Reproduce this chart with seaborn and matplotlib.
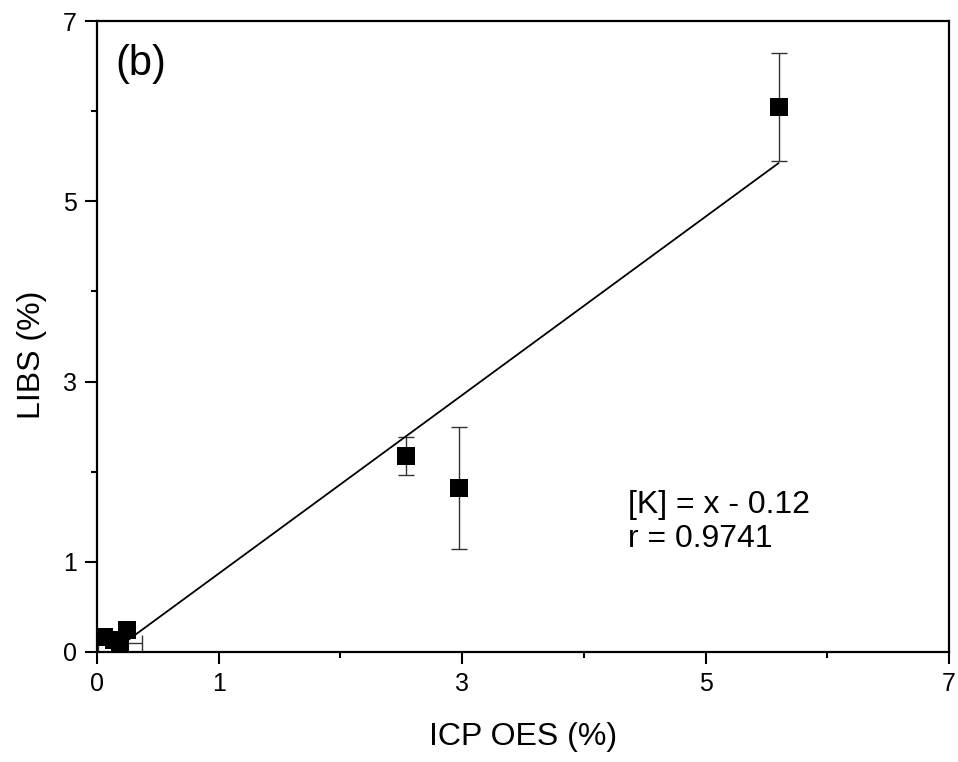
import numpy as np
import pandas as pd
import matplotlib
matplotlib.use("Agg")
import matplotlib.pyplot as plt
import seaborn as sns

# Data
icp = [0.06, 0.19, 0.14, 0.25, 2.54, 2.97, 5.60]
libs = [0.17, 0.10, 0.13, 0.245, 2.175, 1.82, 6.05]
libs_err = [0.0, 0.0, 0.0, 0.0, 0.21, 0.68, 0.60]
icp_err = [0.0, 0.18, 0.0, 0.0, 0.0, 0.0, 0.0]
fit_slope = 0.99
fit_intercept = -0.12
fit_range = [0.13, 5.60]
eq_text = "[K] = x - 0.12"
r_text = "r = 0.9741"
panel_label = "(b)"
major_ticks = [0, 1, 3, 5, 7]
minor_ticks = [2, 4, 6]

sns.set_theme(style="ticks")
plt.rcParams["font.family"] = ["Liberation Sans", "DejaVu Sans"]

df = pd.DataFrame({"ICP": icp, "LIBS": libs, "yerr": libs_err, "xerr": icp_err})

fig = plt.figure(figsize=(9.58, 7.62), dpi=100)
ax = fig.add_axes([0.1013, 0.1444, 0.8893, 0.828])

# error bars
ax.errorbar(df["ICP"], df["LIBS"], yerr=df["yerr"], xerr=df["xerr"], fmt="none",
            ecolor="#333333", elinewidth=1.0, capsize=6, capthick=1.0, zorder=2)

# fit line
fx = np.array(fit_range)
fy = fit_slope * fx + fit_intercept
sns.lineplot(x=fx, y=fy, color="black", linewidth=1.3, ax=ax, zorder=3)

# points
sns.scatterplot(data=df, x="ICP", y="LIBS", marker="s", s=150, color="black",
                edgecolor="black", linewidth=0, ax=ax, zorder=4)

ax.set_xlim(0, 7)
ax.set_ylim(0, 7)
ax.set_xticks(major_ticks)
ax.set_yticks(major_ticks)
ax.set_xticks(minor_ticks, minor=True)
ax.set_yticks(minor_ticks, minor=True)
ax.tick_params(axis="both", which="major", direction="out", length=8.5, width=1.5,
               labelsize=18, color="black", labelcolor="black", pad=6)
ax.tick_params(axis="both", which="minor", direction="out", length=4.5, width=1.5,
               color="black")
for sp in ax.spines.values():
    sp.set_linewidth(1.6)
    sp.set_color("black")
    sp.set_visible(True)

ax.set_xlabel("ICP OES (%)", fontsize=23, labelpad=19, color="black")
ax.set_ylabel("LIBS (%)", fontsize=23, color="black")
ax.yaxis.set_label_coords(-0.059, 0.471)

ax.text(4.36, 1.54, eq_text, fontsize=23, va="baseline", ha="left", color="black")
ax.text(4.36, 1.165, r_text, fontsize=23, va="baseline", ha="left", color="black")
ax.text(0.15, 6.4, panel_label, fontsize=30, va="baseline", ha="left", color="black")

fig.savefig("out.png", dpi=100)
